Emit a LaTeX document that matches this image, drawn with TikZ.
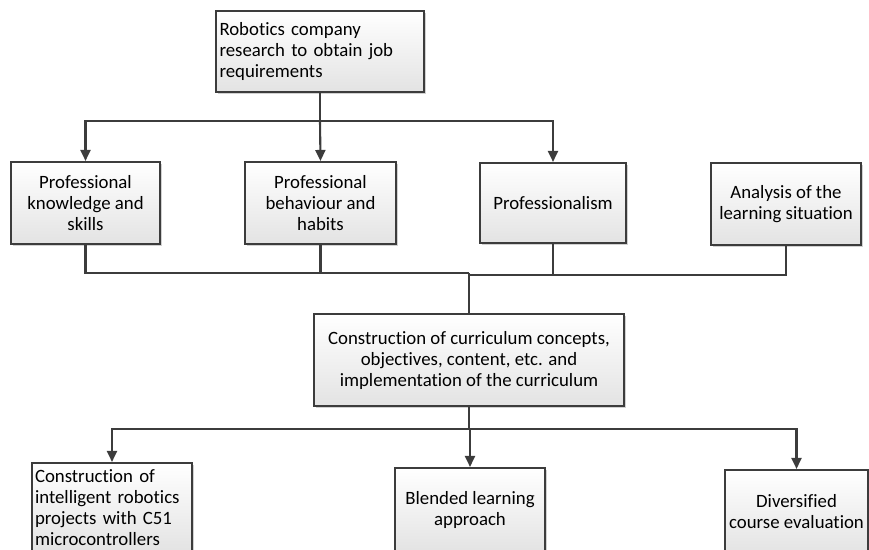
\documentclass[tikz,border=0pt]{standalone}
\usepackage{fontspec}
\setmainfont[Ligatures=NoCommon]{Carlito}
\usetikzlibrary{arrows.meta,shadows}
\definecolor{edge}{HTML}{3C3C3C}
\begin{document}
\begin{tikzpicture}[x=1pt,y=-1pt,
  box/.style={draw=edge, line width=2.1pt, top color=white, bottom color=black!11,
    drop shadow={shadow xshift=2pt, shadow yshift=-2pt, fill=black, opacity=0.18},
    font=\fontsize{18.8}{21}\selectfont, inner sep=2pt, anchor=center},
  conn/.style={draw=edge, line width=2.1pt},
  arr/.style={conn, -{Triangle[length=11pt,width=10pt]}}]
\useasboundingbox (0,0) rectangle (869,549);
\clip (0,0) rectangle (869,549);
% nodes
\node[box, minimum width=208pt, minimum height=81pt, align=left, text width=201pt] (top) at (320,51.5)
  {Robotics company\\research to obtain job\\requirements};
\node[box, minimum width=149pt, minimum height=82pt, align=center] (b1) at (85.5,203)
  {Professional\\knowledge and\\skills};
\node[box, minimum width=151pt, minimum height=82pt, align=center] (b2) at (320.5,203)
  {Professional\\behaviour and\\habits};
\node[box, minimum width=146pt, minimum height=80pt, align=center] (b3) at (553,203)
  {Professionalism};
\node[box, minimum width=150pt, minimum height=82pt, align=center] (b4) at (786,204)
  {Analysis of the\\learning situation};
\node[box, minimum width=310pt, minimum height=92pt, align=center] (mid) at (469,360)
  {Construction of curriculum concepts,\\objectives, content, etc. and\\implementation of the curriculum};
\node[box, minimum width=160pt, minimum height=89pt, align=left, text width=154pt] (c1) at (112,507.5)
  {Construction of\\intelligent robotics\\projects with C51\\microcontrollers};
\node[box, minimum width=150pt, minimum height=84pt, align=center] (c2) at (470,510)
  {Blended learning\\approach};
\node[box, minimum width=143pt, minimum height=84pt, align=center] (c3) at (796.5,512)
  {Diversified\\course evaluation};
% junctions
\coordinate (j1) at (320,121);
\coordinate (j2) at (469,273);
\coordinate (j3) at (469,275);
\coordinate (j4) at (469,429);
% connectors top
\draw[conn] (top.south) -- (j1);
\draw[arr] (j1) -| (b1.north);
\draw[arr] (j1) -- (b2.north);
\draw[arr] (j1) -| (b3.north);
% connectors middle
\draw[conn] (b1.south) |- (j2);
\draw[conn] (b2.south) -- (b2.south |- j2);
\draw[conn] (b4.south) |- (j3);
\draw[conn] (b3.south) -- (b3.south |- j3);
\draw[conn] (j2) -- (mid.north);
% connectors bottom
\draw[conn] (mid.south) -- (j4);
\draw[arr] (j4) -| (c1.north);
\draw[arr] (j4) -- (c2.north |- j4) -- (c2.north);
\draw[arr] (j4) -| (c3.north);
\end{tikzpicture}
\end{document}
